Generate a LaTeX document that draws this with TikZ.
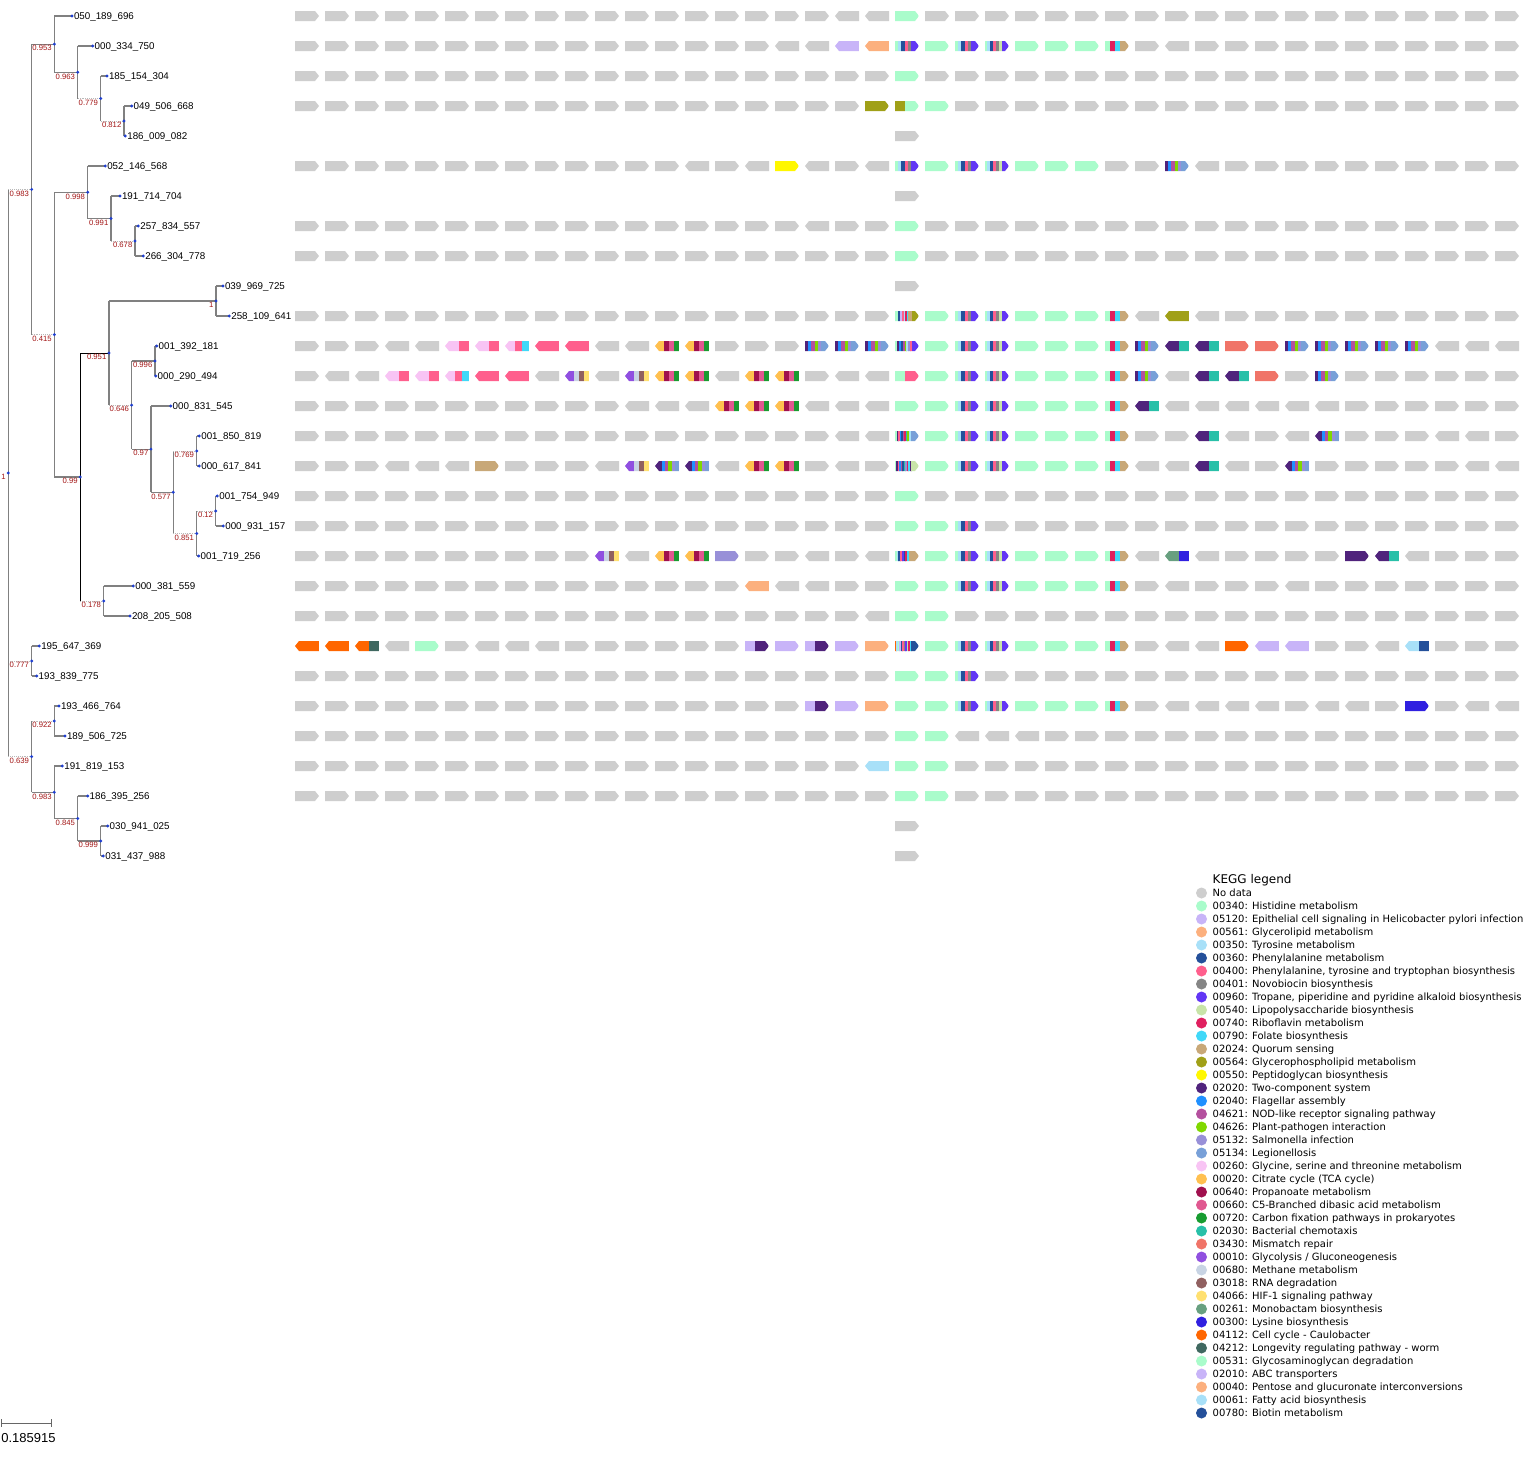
\documentclass[tikz,border=0pt]{standalone}
\usepackage{fontspec}
\setmainfont{Liberation Sans}
\newfontfamily\legfont{DejaVu Sans}
\usetikzlibrary{calc}
\pgfdeclarelayer{bg}\pgfsetlayers{bg,main}

\definecolor{nd}{HTML}{CECECE}
\definecolor{k00340}{HTML}{A9FCCB}
\definecolor{k05120}{HTML}{C8B4F8}
\definecolor{k00561}{HTML}{FCB07E}
\definecolor{k00350}{HTML}{A8E0F8}
\definecolor{k00360}{HTML}{24509A}
\definecolor{k00400}{HTML}{FF5F8D}
\definecolor{k00401}{HTML}{858585}
\definecolor{k00960}{HTML}{6236F5}
\definecolor{k00540}{HTML}{C8E4A8}
\definecolor{k00740}{HTML}{E0205F}
\definecolor{k00790}{HTML}{40D8F8}
\definecolor{k02024}{HTML}{C8A878}
\definecolor{k00564}{HTML}{A0A018}
\definecolor{k00550}{HTML}{FFF700}
\definecolor{k02020}{HTML}{50237C}
\definecolor{k02040}{HTML}{2090FF}
\definecolor{k04621}{HTML}{B4509E}
\definecolor{k04626}{HTML}{80D800}
\definecolor{k05132}{HTML}{9890D8}
\definecolor{k05134}{HTML}{78A0D8}
\definecolor{k00260}{HTML}{F8C4F4}
\definecolor{k00020}{HTML}{FFC050}
\definecolor{k00640}{HTML}{A0104E}
\definecolor{k00660}{HTML}{E05890}
\definecolor{k00720}{HTML}{189C30}
\definecolor{k02030}{HTML}{28C0A8}
\definecolor{k03430}{HTML}{F07468}
\definecolor{k00010}{HTML}{9050E0}
\definecolor{k00680}{HTML}{C8D4E4}
\definecolor{k03018}{HTML}{906060}
\definecolor{k04066}{HTML}{FFE070}
\definecolor{k00261}{HTML}{68A080}
\definecolor{k00300}{HTML}{3020E0}
\definecolor{k04112}{HTML}{FF6600}
\definecolor{k04212}{HTML}{406860}
\definecolor{k00531}{HTML}{A9FCCB}
\definecolor{k02010}{HTML}{C8B4F8}
\definecolor{k00040}{HTML}{FCB07E}
\definecolor{k00061}{HTML}{A8E0F8}
\definecolor{k00780}{HTML}{24509A}
\definecolor{dotblue}{HTML}{1F3FD0}
\definecolor{tgray}{HTML}{808080}
\definecolor{supred}{HTML}{A31515}

% gene arrows
\newcount\gcnt
\newcommand\garR[2]{\fill[nd] ({295+30*#1},{16+30*#2-5}) -- ++(20,0) -- ++(4,5) -- ++(-4,5) -- ++(-20,0) -- cycle;}
\newcommand\garL[2]{\fill[nd] ({299+30*#1},{16+30*#2-5}) -- ++(20,0) -- ++(0,10) -- ++(-20,0) -- ++(-4,-5) -- cycle;}
\def\gdirs#1#2{\def\gRowNum{#1}\gcnt=0 \gparse#2\relax}
\def\gparse#1{\ifx#1\relax\else
  \if#1R\garR{\the\gcnt}{\gRowNum}\fi
  \if#1L\garL{\the\gcnt}{\gRowNum}\fi
  \advance\gcnt by 1
  \expandafter\gparse\fi}
\newcommand\gene[4]{%
  \edef\gList{#4}%
  \begin{scope}
    \if#3R\clip ({295+30*#1},{16+30*#2-5}) -- ++(20,0) -- ++(4,5) -- ++(-4,5) -- ++(-20,0) -- cycle;
    \else\clip ({299+30*#1},{16+30*#2-5}) -- ++(20,0) -- ++(0,10) -- ++(-20,0) -- ++(-4,-5) -- cycle;\fi
    \xdef\gAcc{0}%
    \foreach \cc/\ww in \gList {%
      \fill[fill=\cc] ({295+30*#1+\gAcc-0.05},{16+30*#2-6}) rectangle ++({\ww+0.1},12);
      \pgfmathsetmacro\gTmp{\gAcc+\ww}\xdef\gAcc{\gTmp}}%
  \end{scope}}

\def\gpHis{k00340/24}
\def\gpA{k00340/3,k00350/3,k00360/4,k00400/3,k00401/3,k00960/8}
\def\gpC{k00340/2,k00350/3,k00360/3.3,k00400/2.7,k00401/3,k00540/3,k00960/7}
\def\gpD{k00340/5,k00740/5,k00790/5,k02024/9}
\def\gpE{k02020/3,k02040/3,k04621/4,k04626/3,k05132/3,k05134/8}
\def\gpF{k00020/9,k00640/5,k00660/5,k00720/5}
\def\gpG{k00010/9,k00680/5,k03018/5,k04066/5}
\def\gpH{k02020/14,k02030/10}
\def\gpI{k02020/7,k02040/3,k04621/3,k04626/4,k05132/3,k05134/4}
\def\gpJ{k00260/14,k00400/10}
\def\gpK{k00260/10,k00400/7,k00790/7}
\def\gpX{k00340/3,k00360/2,k05120/2,k00400/2,k00350/1.5,k00740/1.5,k00790/1.5,k02024/3.5,k00564/7}
\def\gpY{k00340/2,k02020/2,k02040/2,k00360/2,k04621/2,k04626/1.5,k00350/2,k05132/2,k00400/1.5,k00960/7}
\def\gpZ{k00340/2,k02020/1.5,k00400/1.5,k02040/1.5,k00360/1.5,k04621/1.5,k00740/1.5,k02030/1.5,k04626/1.5,k00350/2,k05134/8}
\def\gpW{k00340/1.5,k02020/1.5,k00400/1.5,k02040/1.5,k04621/1.5,k00360/1.5,k02030/1.5,k05132/1.5,k00740/1.5,k00790/1.5,k02020/1.5,k00540/7.5}
\def\gpV{k00340/2,k00350/1.5,k00360/2,k00400/2,k00960/1.5,k00360/1.5,k00740/1.5,k00790/2,k02024/10}
\def\gpU{k04112/1.5,k00350/1.5,k00340/1.5,k05120/1.5,k00360/1.5,k00400/1.5,k00401/1.5,k00960/1.5,k00540/1.5,k00740/1.5,k00790/1.5,k00780/7.5}
\newcommand\stdcore[1]{\gene{21}{#1}{R}{\gpHis}\gene{22}{#1}{R}{\gpA}\gene{23}{#1}{R}{\gpC}\gene{24}{#1}{R}{\gpHis}\gene{25}{#1}{R}{\gpHis}\gene{26}{#1}{R}{\gpHis}}

\tikzset{
  dot/.style={circle, fill=dotblue, inner sep=0pt, minimum size=3.2pt},
  tline/.style={draw=tgray, line width=1.1pt},
  tdot/.style={draw=tgray!55, line width=0.9pt, densely dotted},
  tblk/.style={draw=black, line width=0.6pt},
  vN99/.style={draw=black, line width=0.6pt},
  lab/.style={font=\fontsize{9.8}{11}\selectfont, inner sep=0pt, anchor=base west},
  sup/.style={font=\fontsize{7.7}{8}\selectfont, text=supred, inner sep=0pt, anchor=base east},
  legtxt/.style={font=\legfont\fontsize{10}{12}\selectfont, inner sep=0pt, anchor=base west},
  legdot/.style={circle, inner sep=0pt, minimum size=11pt},
  sbar/.style={draw=tgray!80!black, line width=1pt},
}

\begin{document}
\begin{tikzpicture}[x=1pt,y=-1pt]
\begin{pgfonlayer}{bg}
\fill[white] (0,0) rectangle (1523,1470);
\end{pgfonlayer}
\useasboundingbox (0,0) rectangle (1523,1470);

% ---------------- gene grid (grey) ----------------
\gdirs{0}{RRRRRRRRRR RRRRRRRRLL XRRRRRRRRR RRRRRRRRRR R}
\gdirs{1}{RRRRRRRRRR RRRRRRLLXX XXXXXXXXRL RRRRRRRRRR R}
\gdirs{2}{RRRRRRRRRR RRRRRRRRRR XRRRRRRRRR RRRRRRRRRR R}
\gdirs{3}{RRRRRRRRRR RRRRRRRRRX XXRRRRRRRR RRRRRRRRRR R}
\garR{20}{4}
\gdirs{5}{RRRRRRRRRR RRRLRLXLRL XXXXXXXRRX LRRRRRRRRR R}
\garR{20}{6}
\gdirs{7}{RRRRRRRRRR RRRRRRRLRR XRRRRRRRRR RRRRRRRRRR R}
\gdirs{8}{RRRRRRRRRR RRRRRRRRRR XRRRRRRRRR RRRRRRRRRR R}
\garR{20}{9}
\gdirs{10}{RRRRRRRRRR RRRRRRRRRR XXXXXXXXLX LRRRRRRRRR R}
\gdirs{11}{RRRLLXXXXX LLXXRRRXXX XXXXXXXXXX XXXXXXXXLL L}
\gdirs{12}{RLLXXXXXLX LXXXLXXRLL XXXXXXXXXL XXXRXRRRRR R}
\gdirs{13}{RRRRRRRRRR RLLLXXXLLL XXXXXXXXXL LLLLLRRRRR R}
\gdirs{14}{RRRRRRRRRR RRRRRRRRLL XXXXXXXXRR XLRLXRRRLL R}
\gdirs{15}{RRRLLLXRRR LXXXLXXRLR XXXXXXXXLL XLRXRRRRRL L}
\gdirs{16}{RRRRRRRRRR RRRRRRRRRR XRRRRRRRRR RRRRRRRRRR R}
\gdirs{17}{RRRRRRRRRR RRRRRRRRRR XXXRRRRRRR RRRRRRRRRR R}
\gdirs{18}{RRRRRRRRRR XLXXXRRLRL XXXXXXXXLX LRRRRXXLRR R}
\gdirs{19}{RRRRRRRRRR RRRRRXLLRR XXXXXXXXRL RRRLRRRRRR R}
\gdirs{20}{RRRRRRRRRR RRRRRRRRRL XXRRRRRRRR RRRRRRRRRR R}
\gdirs{21}{XXXLXRLLLR RRRRRXXXXX XXXXXXXXRL LXXXRRLXRR R}
\gdirs{22}{RRRRRRRRRR RRRRRRRRRR XXXRRRRRRR RRRRRRRRRR R}
\gdirs{23}{RRRRRRRRRR RRRRRRRXXX XXXXXXXXRL LLLRLLRXRL L}
\gdirs{24}{RRRRRRRRRR RRRRRRRRRR XXLLLRRRRR RRRRRRRRRR R}
\gdirs{25}{RRRRRRRRRR RRRRRRRRRX XXRRRRRRRR RRRRRRRRRR R}
\gdirs{26}{RRRRRRRRRR RRRRRRRRRR XXRRRRRRRR RRRRRRRRRR R}
\garR{20}{27}
\garR{20}{28}

% ---------------- coloured genes ----------------
\gene{20}{0}{R}{\gpHis}
\gene{18}{1}{L}{k05120/24}\gene{19}{1}{L}{k00561/24}\gene{20}{1}{R}{\gpA}\stdcore{1}\gene{27}{1}{R}{\gpD}
\gene{20}{2}{R}{\gpHis}
\gene{19}{3}{R}{k00564/24}\gene{20}{3}{R}{k00564/10,k00340/14}\gene{21}{3}{R}{\gpHis}
\gene{16}{5}{R}{k00550/24}\gene{20}{5}{R}{\gpA}\stdcore{5}\gene{29}{5}{R}{\gpE}
\gene{20}{7}{R}{\gpHis}
\gene{20}{8}{R}{\gpHis}
\gene{20}{10}{R}{\gpX}\stdcore{10}\gene{27}{10}{R}{\gpD}\gene{29}{10}{L}{k00564/24}
% row 11
\gene{5}{11}{L}{\gpJ}\gene{6}{11}{L}{\gpJ}\gene{7}{11}{L}{\gpK}\gene{8}{11}{L}{k00400/24}\gene{9}{11}{L}{k00400/24}
\gene{12}{11}{L}{\gpF}\gene{13}{11}{L}{\gpF}
\gene{17}{11}{R}{\gpE}\gene{18}{11}{R}{\gpE}\gene{19}{11}{R}{\gpE}
\gene{20}{11}{R}{\gpY}\stdcore{11}\gene{27}{11}{R}{\gpD}
\gene{28}{11}{R}{\gpE}\gene{29}{11}{L}{\gpH}\gene{30}{11}{L}{\gpH}\gene{31}{11}{R}{k03430/24}\gene{32}{11}{R}{k03430/24}
\gene{33}{11}{R}{\gpE}\gene{34}{11}{R}{\gpE}\gene{35}{11}{R}{\gpE}\gene{36}{11}{R}{\gpE}\gene{37}{11}{R}{\gpE}
% row 12
\gene{3}{12}{L}{\gpJ}\gene{4}{12}{L}{\gpJ}\gene{5}{12}{L}{\gpK}\gene{6}{12}{L}{k00400/24}\gene{7}{12}{L}{k00400/24}
\gene{9}{12}{L}{\gpG}\gene{11}{12}{L}{\gpG}\gene{12}{12}{L}{\gpF}\gene{13}{12}{L}{\gpF}\gene{15}{12}{L}{\gpF}\gene{16}{12}{L}{\gpF}
\gene{20}{12}{R}{k00340/10,k00400/14}\stdcore{12}\gene{27}{12}{R}{\gpD}
\gene{28}{12}{R}{\gpE}\gene{30}{12}{L}{\gpH}\gene{31}{12}{L}{\gpH}\gene{32}{12}{R}{k03430/24}\gene{34}{12}{R}{\gpE}
% row 13
\gene{14}{13}{L}{\gpF}\gene{15}{13}{L}{\gpF}\gene{16}{13}{L}{\gpF}
\gene{20}{13}{R}{\gpHis}\stdcore{13}\gene{27}{13}{R}{\gpD}\gene{28}{13}{L}{\gpH}
% row 14
\gene{20}{14}{R}{\gpZ}\stdcore{14}\gene{27}{14}{R}{\gpD}\gene{30}{14}{L}{\gpH}\gene{34}{14}{L}{\gpI}
% row 15
\gene{6}{15}{R}{k02024/24}\gene{11}{15}{L}{\gpG}\gene{12}{15}{L}{\gpI}\gene{13}{15}{L}{\gpI}\gene{15}{15}{L}{\gpF}\gene{16}{15}{L}{\gpF}
\gene{20}{15}{R}{\gpW}\stdcore{15}\gene{27}{15}{R}{\gpD}\gene{30}{15}{L}{\gpH}\gene{33}{15}{L}{\gpI}
% rows 16-17
\gene{20}{16}{R}{\gpHis}
\gene{20}{17}{R}{\gpHis}\gene{21}{17}{R}{\gpHis}\gene{22}{17}{R}{\gpA}
% row 18
\gene{10}{18}{L}{\gpG}\gene{12}{18}{L}{\gpF}\gene{13}{18}{L}{\gpF}\gene{14}{18}{R}{k05132/24}
\gene{20}{18}{R}{\gpV}\stdcore{18}\gene{27}{18}{R}{\gpD}
\gene{29}{18}{L}{k00261/14,k00300/10}\gene{35}{18}{R}{k02020/24}\gene{36}{18}{L}{\gpH}
% row 19
\gene{15}{19}{L}{k00561/24}\gene{20}{19}{R}{\gpHis}\stdcore{19}\gene{27}{19}{R}{\gpD}
% row 20
\gene{20}{20}{R}{\gpHis}\gene{21}{20}{R}{\gpHis}
% row 21
\gene{0}{21}{L}{k04112/24}\gene{1}{21}{L}{k04112/24}\gene{2}{21}{L}{k04112/14,k04212/10}\gene{4}{21}{R}{k00531/24}
\gene{15}{21}{R}{k05120/10,k02020/14}\gene{16}{21}{R}{k05120/24}\gene{17}{21}{R}{k05120/10,k02020/14}\gene{18}{21}{R}{k05120/24}\gene{19}{21}{R}{k00561/24}
\gene{20}{21}{R}{\gpU}\stdcore{21}\gene{27}{21}{R}{\gpD}
\gene{31}{21}{R}{k04112/24}\gene{32}{21}{L}{k05120/24}\gene{33}{21}{L}{k05120/24}\gene{37}{21}{L}{k00061/14,k00780/10}
% row 22
\gene{20}{22}{R}{\gpHis}\gene{21}{22}{R}{\gpHis}\gene{22}{22}{R}{\gpA}
% row 23
\gene{17}{23}{R}{k05120/10,k02020/14}\gene{18}{23}{R}{k05120/24}\gene{19}{23}{R}{k00561/24}
\gene{20}{23}{R}{\gpHis}\stdcore{23}\gene{27}{23}{R}{\gpD}\gene{37}{23}{R}{k00300/24}
% rows 24-26
\gene{20}{24}{R}{\gpHis}\gene{21}{24}{R}{\gpHis}
\gene{19}{25}{L}{k00350/24}\gene{20}{25}{R}{\gpHis}\gene{21}{25}{R}{\gpHis}
\gene{20}{26}{R}{\gpHis}\gene{21}{26}{R}{\gpHis}

% ---------------- tree ----------------
\node[dot] (R) at (8.3,473) {};
\node[dot] (A0) at (31.7,189.4) {};
\node[dot] (B) at (31.7,661) {};
\node[dot] (C) at (31.7,756.6) {};
\node[dot] (A1) at (54.3,44.1) {};
\node[dot] (A2) at (54.3,334.6) {};
\node[dot] (A11) at (77.7,72.25) {};
\node[dot] (A111) at (100.7,98.5) {};
\node[dot] (A1111) at (124,121) {};
\node[dot] (A21) at (87.7,192.25) {};
\node[dot] (A211) at (111,218.5) {};
\node[dot] (A2111) at (135,241) {};
\node[dot] (N99) at (80.3,477) {};
\node[dot] (N951) at (109,353.05) {};
\node[dot] (N1) at (216,301) {};
\node[dot] (N646) at (131.7,405.1) {};
\node[dot] (N996) at (155,361) {};
\node[dot] (N97) at (151,449.1) {};
\node[dot] (N577) at (173.3,492.25) {};
\node[dot] (N769) at (196.7,451) {};
\node[dot] (N851) at (196.7,533.5) {};
\node[dot] (N12) at (215.7,511) {};
\node[dot] (N178) at (103.7,601) {};
\node[dot] (C1) at (54.3,721) {};
\node[dot] (C2) at (54.3,792.25) {};
\node[dot] (C21) at (77.7,818.5) {};
\node[dot] (C211) at (100.7,841) {};

\foreach \x/\nm [count=\i from 0] in {72/050\_189\_696, 92.7/000\_334\_750, 107/185\_154\_304, 131.7/049\_506\_668, 125.3/186\_009\_082, 105.3/052\_146\_568, 120/191\_714\_704, 138.3/257\_834\_557, 143.3/266\_304\_778, 223/039\_969\_725, 229.3/258\_109\_641, 156.7/001\_392\_181, 155.7/000\_290\_494, 170.7/000\_831\_545, 199.3/001\_850\_819, 199.3/000\_617\_841, 217.3/001\_754\_949, 223.3/000\_931\_157, 198.7/001\_719\_256, 133.3/000\_381\_559, 130/208\_205\_508, 39.3/195\_647\_369, 36.7/193\_839\_775, 59/193\_466\_764, 65/189\_506\_725, 62.3/191\_819\_153, 87.7/186\_395\_256, 107.7/030\_941\_025, 103.3/031\_437\_988}
{\node[dot] (L\i) at (\x,{16+30*\i}) {};
 \node[lab] (T\i) at ($(L\i.center)+(1.8,3.5)$) {\nm};}

\begin{pgfonlayer}{bg}
\foreach \p/\c/\hs in {R/A0/tdot, R/B/tdot, R/C/tdot,
  A0/A1/tline, A0/A2/tdot, A1/L0/tline, A1/A11/tline, A11/L1/tline, A11/A111/tdot,
  A111/L2/tline, A111/A1111/tdot, A1111/L3/tline, A1111/L4/tline,
  A2/A21/tline, A2/N99/tline, A21/L5/tline, A21/A211/tline, A211/L6/tline, A211/A2111/tdot,
  A2111/L7/tline, A2111/L8/tline, N99/N951/tblk, N99/N178/tdot, N951/N1/tline, N951/N646/tdot,
  N1/L9/tline, N1/L10/tline, N646/N996/tline, N646/N97/tline, N996/L11/tline, N996/L12/tline,
  N97/L13/tline, N97/N577/tline, N577/N769/tdot, N577/N851/tdot, N769/L14/tline, N769/L15/tline,
  N851/N12/tdot, N851/L18/tline, N12/L16/tline, N12/L17/tline, N178/L19/tline, N178/L20/tline,
  B/L21/tline, B/L22/tline, C/C1/tdot, C/C2/tline, C1/L23/tline, C1/L24/tline,
  C2/L25/tline, C2/C21/tline, C21/L26/tline, C21/C211/tline, C211/L27/tline, C211/L28/tline}
{\draw[tline, v\p/.try] (\p.center) -- (\p.center |- \c.center);
 \draw[\hs] (\p.center |- \c.center) -- (\c.center);}
\end{pgfonlayer}

\foreach \n/\v in {R/1, A0/0.983, A1/0.953, A11/0.963, A111/0.779, A1111/0.812, A2/0.415,
  A21/0.998, A211/0.991, A2111/0.678, N1/1, N951/0.951, N996/0.996, N646/0.646, N99/0.99,
  N97/0.97, N769/0.769, N577/0.577, N12/0.12, N851/0.851, N178/0.178, B/0.777, C/0.639,
  C1/0.922, C2/0.983, C21/0.845, C211/0.999}
{\node[sup] (s\n) at ($(\n.center)+(-2.5,6.8)$) {\v};}

% ---------------- scale bar ----------------
\coordinate (sbA) at (1,1423);
\coordinate (sbB) at (51,1423);
\draw[sbar] (sbA) -- (sbB);
\draw[sbar] ($(sbA)+(0,-4)$) -- ($(sbA)+(0,4)$);
\draw[sbar] ($(sbB)+(0,-4)$) -- ($(sbB)+(0,4)$);
\node[font=\fontsize{13}{14}\selectfont, inner sep=0pt, anchor=base west] (sbt) at (1.2,1442.6) {0.185915};

% ---------------- legend ----------------
\node[font=\legfont\fontsize{12}{14}\selectfont, inner sep=0pt, anchor=base west] (legtitle) at (1212.5,883.4) {KEGG legend};
\foreach \cl/\tx [count=\i from 0] in {nd/{No data},
 k00340/{00340: Histidine metabolism},
 k05120/{05120: Epithelial cell signaling in Helicobacter pylori infection},
 k00561/{00561: Glycerolipid metabolism},
 k00350/{00350: Tyrosine metabolism},
 k00360/{00360: Phenylalanine metabolism},
 k00400/{00400: Phenylalanine, tyrosine and tryptophan biosynthesis},
 k00401/{00401: Novobiocin biosynthesis},
 k00960/{00960: Tropane, piperidine and pyridine alkaloid biosynthesis},
 k00540/{00540: Lipopolysaccharide biosynthesis},
 k00740/{00740: Riboflavin metabolism},
 k00790/{00790: Folate biosynthesis},
 k02024/{02024: Quorum sensing},
 k00564/{00564: Glycerophospholipid metabolism},
 k00550/{00550: Peptidoglycan biosynthesis},
 k02020/{02020: Two-component system},
 k02040/{02040: Flagellar assembly},
 k04621/{04621: NOD-like receptor signaling pathway},
 k04626/{04626: Plant-pathogen interaction},
 k05132/{05132: Salmonella infection},
 k05134/{05134: Legionellosis},
 k00260/{00260: Glycine, serine and threonine metabolism},
 k00020/{00020: Citrate cycle (TCA cycle)},
 k00640/{00640: Propanoate metabolism},
 k00660/{00660: C5-Branched dibasic acid metabolism},
 k00720/{00720: Carbon fixation pathways in prokaryotes},
 k02030/{02030: Bacterial chemotaxis},
 k03430/{03430: Mismatch repair},
 k00010/{00010: Glycolysis / Gluconeogenesis},
 k00680/{00680: Methane metabolism},
 k03018/{03018: RNA degradation},
 k04066/{04066: HIF-1 signaling pathway},
 k00261/{00261: Monobactam biosynthesis},
 k00300/{00300: Lysine biosynthesis},
 k04112/{04112: Cell cycle - Caulobacter},
 k04212/{04212: Longevity regulating pathway - worm},
 k00531/{00531: Glycosaminoglycan degradation},
 k02010/{02010: ABC transporters},
 k00040/{00040: Pentose and glucuronate interconversions},
 k00061/{00061: Fatty acid biosynthesis},
 k00780/{00780: Biotin metabolism}}
{\node[legdot, fill=\cl] (lc\i) at (1201.5,{893+13*\i}) {};
 \node[legtxt] (lg\i) at (1212.5,{896.6+13*\i}) {\tx};}
\end{tikzpicture}
\end{document}
